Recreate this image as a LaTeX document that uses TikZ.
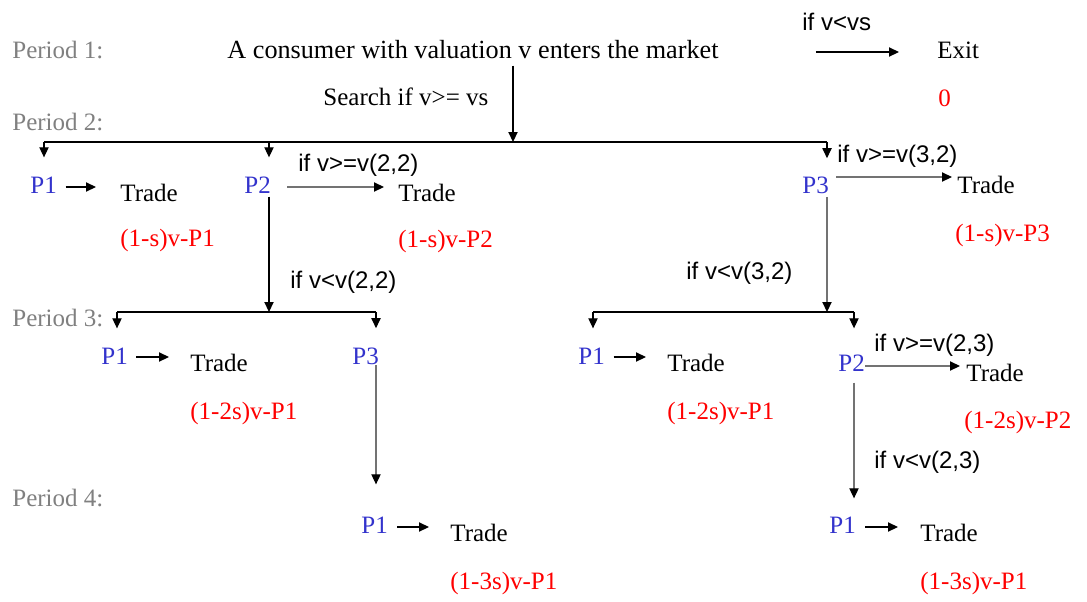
\documentclass[tikz,border=0pt]{standalone}
\usepackage{fontspec}
\setmainfont{Liberation Serif}
\setsansfont{Liberation Sans}
\usetikzlibrary{arrows.meta, positioning}

\definecolor{firmblue}{RGB}{51,51,204}
\definecolor{periodgray}{RGB}{128,128,128}

\begin{document}
\begin{tikzpicture}[
    x=0.5pt, y=-0.5pt,
    font=\fontsize{12.5}{15}\selectfont,
    every node/.style={inner sep=0pt, anchor=west},
    periodst/.style={text=periodgray},
    firmst/.style={text=firmblue},
    payst/.style={text=red},
    condst/.style={font=\sffamily\fontsize{12}{14}\selectfont},
    branch/.style={line width=0.6pt},
    arr/.style={-{Triangle[length=5pt, width=4.6pt, color=black]}, line width=0.6pt},
    garr/.style={arr, draw=black!55},
  ]
  \useasboundingbox (0,0) rectangle (1087,601);
  %% Period labels
  \node[periodst] (per1) at (12,50) {Period 1:};
  \node[periodst] (per2) at (12,122) {Period 2:};
  \node[periodst] (per3) at (12,318) {Period 3:};
  \node[periodst] (per4) at (12,498) {Period 4:};
  %% Period 1
  \node[font=\fontsize{13.1}{15}\selectfont] (enter) at (227,50) {A consumer with valuation v enters the market};
  \node[condst] (condexit) at (802,22) {if v<vs};
  \node (exit) at (937,50) {Exit};
  \node[payst] (payexit) at (938,98) {0};
  \node (search) at (323,97) {Search if v>= vs};
  \coordinate (j2) at (513,142);
  \coordinate (j2l) at (44,142);
  \coordinate (j2m) at (269,142);
  \coordinate (j2r) at (827,142);
  %% Period 2
  \node[firmst] (p21) at (30,185) {P1};
  \node (tr21) at (120,193) {Trade};
  \node[payst] (pay21) at (120,240) {(1-s)v-P1};
  \node[firmst] (p22) at (244,185) {P2};
  \node[condst] (cond22) at (298,165) {if v>=v(2,2)};
  \node (tr22) at (398,193) {Trade};
  \node[payst] (pay22) at (398,241) {(1-s)v-P2};
  \node[firmst] (p23) at (802,185) {P3};
  \node[condst] (cond23) at (837,156) {if v>=v(3,2)};
  \node (tr23) at (957,185) {Trade};
  \node[payst] (pay23) at (955,235) {(1-s)v-P3};
  \node[condst] (lo22) at (290,282) {if v<v(2,2)};
  \node[condst] (lo23) at (686,273) {if v<v(3,2)};
  \coordinate (j3a) at (269,312);
  \coordinate (j3al) at (117,312);
  \coordinate (j3ar) at (376,312);
  \coordinate (j3b) at (827,312);
  \coordinate (j3bl) at (593,312);
  \coordinate (j3br) at (854,312);
  %% Period 3
  \node[firmst] (p31a) at (101,356) {P1};
  \node (tr31a) at (190,363) {Trade};
  \node[payst] (pay31a) at (190,413) {(1-2s)v-P1};
  \node[firmst] (p33a) at (352,356) {P3};
  \node[firmst] (p31b) at (578,356) {P1};
  \node (tr31b) at (667,363) {Trade};
  \node[payst] (pay31b) at (667,413) {(1-2s)v-P1};
  \node[firmst] (p32b) at (838,363) {P2};
  \node[condst] (cond32) at (874,345) {if v>=v(2,3)};
  \node (tr32b) at (966,373) {Trade};
  \node[payst] (pay32b) at (964,422) {(1-2s)v-P2};
  \node[condst] (lo32) at (874,462) {if v<v(2,3)};
  %% Period 4
  \node[firmst] (p41a) at (361,525) {P1};
  \node (tr41a) at (450,533) {Trade};
  \node[payst] (pay41a) at (450,583) {(1-3s)v-P1};
  \node[firmst] (p41b) at (829,525) {P1};
  \node (tr41b) at (920,533) {Trade};
  \node[payst] (pay41b) at (920,583) {(1-3s)v-P1};
  %% Arrows
  \draw[arr, shorten <=48.5pt, shorten >=19pt] ([yshift=-1pt]enter.east) -- ([yshift=-1pt]enter.east -| exit.west);
  \draw[arr, shorten <=3pt] (enter.south -| j2) -- (j2);
  \draw[branch] (j2l) -- (j2r);
  \draw[arr, shorten >=9.5pt] (j2l) -- (j2l |- p21.north);
  \draw[arr, shorten >=9.5pt] (j2m) -- (j2m |- p22.north);
  \draw[arr, shorten >=9pt] (j2r) -- (j2r |- p23.north);
  \draw[arr, shorten <=4.25pt, shorten >=12pt] ([yshift=-1pt]p21.east) -- ([yshift=-1pt]p21.east -| tr21.west);
  \draw[garr, shorten <=8pt, shorten >=7pt] ([yshift=-1pt]p22.east) -- ([yshift=-1pt]p22.east -| tr22.west);
  \draw[garr, shorten <=3.5pt, shorten >=2.5pt] ([yshift=4pt]p23.east) -- ([yshift=4pt]p23.east -| tr23.west);
  \draw[arr, shorten <=1.5pt] (p22.south -| j3a) -- (j3a);
  \draw[garr, shorten <=1.5pt] (p23.south -| j3b) -- (j3b);
  \draw[branch] (j3al) -- (j3ar);
  \draw[branch] (j3bl) -- (j3br);
  \draw[arr, shorten >=9.5pt] (j3al) -- (j3al |- p31a.north);
  \draw[arr, shorten >=9.5pt] (j3ar) -- (j3ar |- p33a.north);
  \draw[arr, shorten >=9.5pt] (j3bl) -- (j3bl |- p31b.north);
  \draw[arr, shorten >=13pt] (j3br) -- (j3br |- p32b.north);
  \draw[arr, shorten <=4pt, shorten >=10.5pt] ([yshift=-0.5pt]p31a.east) -- ([yshift=-0.5pt]p31a.east -| tr31a.west);
  \draw[arr, shorten <=4.25pt, shorten >=10.5pt] ([yshift=-0.5pt]p31b.east) -- ([yshift=-0.5pt]p31b.east -| tr31b.west);
  \draw[garr, shorten >=3pt] ([yshift=-1.5pt]p32b.east) -- ([yshift=-1.5pt]p32b.east -| tr32b.west);
  \draw[garr, shorten >=16pt] (p33a.south -| j3ar) -- (j3ar |- p41a.north);
  \draw[garr, shorten <=5.5pt, shorten >=9pt] (p32b.south -| j3br) -- (j3br |- p41b.north);
  \draw[arr, shorten <=4.5pt, shorten >=10.5pt] ([yshift=-1pt]p41a.east) -- ([yshift=-1pt]p41a.east -| tr41a.west);
  \draw[arr, shorten <=4.5pt, shorten >=11pt] ([yshift=-1pt]p41b.east) -- ([yshift=-1pt]p41b.east -| tr41b.west);
\end{tikzpicture}
\end{document}
